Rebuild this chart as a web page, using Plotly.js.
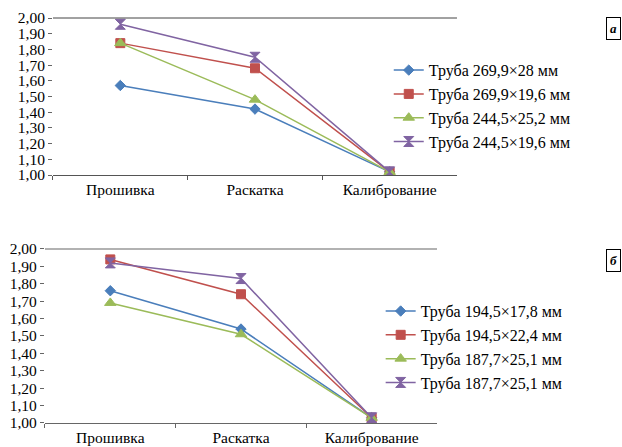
<!DOCTYPE html>
<html><head><meta charset="utf-8">
<script src="https://cdn.plot.ly/plotly-3.0.1.min.js"></script>
<style>html,body{margin:0;padding:0;background:#fff}#c{width:622px;height:447px}</style>
</head><body><div id="c"></div>
<script>
const categories = ['Прошивка', 'Раскатка', 'Калибрование'];

const namesA = ['Труба 269,9×28 мм', 'Труба 269,9×19,6 мм', 'Труба 244,5×25,2 мм', 'Труба 244,5×19,6 мм'];
const a_blue   = [1.57, 1.42, 1.02];
const a_red    = [1.84, 1.68, 1.02];
const a_green  = [1.84, 1.48, 1.02];
const a_purple = [1.96, 1.75, 1.02];

const namesB = ['Труба 194,5×17,8 мм', 'Труба 194,5×22,4 мм', 'Труба 187,7×25,1 мм', 'Труба 187,7×25,1 мм'];
const b_blue   = [1.76, 1.54, 1.03];
const b_red    = [1.94, 1.74, 1.03];
const b_green  = [1.69, 1.51, 1.03];
const b_purple = [1.92, 1.83, 1.03];

const colors = ['#4A7EBB', '#C0504D', '#9BBB59', '#8064A2'];
const symbols = ['diamond', 'square', 'triangle-up', 'hourglass'];
const sizes = [8, 9, 10, 10];

const F = 'Liberation Serif';
const traces = [];
[a_blue, a_red, a_green, a_purple].forEach((v, i) => {
  traces.push({
    x: categories, y: v, name: namesA[i], type: 'scatter', mode: 'lines+markers',
    xaxis: 'x', yaxis: 'y', legend: 'legend',
    line: {color: colors[i], width: 1.5},
    marker: {color: colors[i], symbol: symbols[i], size: sizes[i], line: {color: colors[i], width: 1}}
  });
});
[b_blue, b_red, b_green, b_purple].forEach((v, i) => {
  traces.push({
    x: categories, y: v, name: namesB[i], type: 'scatter', mode: 'lines+markers',
    xaxis: 'x2', yaxis: 'y2', legend: 'legend2',
    line: {color: colors[i], width: 1.5},
    marker: {color: colors[i], symbol: symbols[i], size: sizes[i], line: {color: colors[i], width: 1}}
  });
});

const xax = (dom, lc) => ({
  domain: dom, type: 'category', range: [-0.5, 2.5], showgrid: false, zeroline: false,
  showline: true, linecolor: lc, linewidth: 1, ticks: 'outside', tickson: 'boundaries',
  ticklen: 4, tickcolor: lc, tickfont: {family: F, size: 15.5, color: '#000'}, automargin: false
});
const yax = (dom, anchor) => ({
  domain: dom, range: [1, 2], dtick: 0.1, tick0: 1, tickformat: '.2f', showgrid: false,
  zeroline: false, showline: false, ticks: 'outside', ticklen: 4, tickcolor: '#666',
  tickfont: {family: F, size: 15.5, color: '#000'}, anchor: anchor, automargin: false
});

const layout = {
  width: 622, height: 447, margin: {l: 0, r: 0, t: 0, b: 0},
  paper_bgcolor: '#fff', plot_bgcolor: '#fff', separators: ', ',
  font: {family: F, color: '#000'},
  xaxis: xax([0.0852, 0.7347], '#555'),
  yaxis: yax([0.6085, 0.9597], 'x'),
  xaxis2: Object.assign(xax([0.0723, 0.7026], '#666'), {anchor: 'y2'}),
  yaxis2: yax([0.0537, 0.443], 'x2'),
  legend: {x: 0.625, y: 0.881, xanchor: 'left', yanchor: 'top', bgcolor: 'rgba(0,0,0,0)',
    font: {family: F, size: 16, color: '#000'}, tracegroupgap: 0, itemwidth: 30},
  legend2: {x: 0.612, y: 0.342, xanchor: 'left', yanchor: 'top', bgcolor: 'rgba(0,0,0,0)',
    font: {family: F, size: 16, color: '#000'}, tracegroupgap: 0, itemwidth: 30},
  shapes: [
    {type: 'line', xref: 'x domain', yref: 'y domain', x0: 0, x1: 1, y0: 1, y1: 1, line: {color: '#444', width: 1}},
    {type: 'line', xref: 'x2 domain', yref: 'y2 domain', x0: 0, x1: 1, y0: 1, y1: 1, line: {color: '#999', width: 1.5}}
  ],
  annotations: [
    {text: '<b><i>а</i></b>', xref: 'paper', yref: 'paper', x: 0.9985, y: 0.962, xanchor: 'right', yanchor: 'top',
     showarrow: false, bordercolor: '#000', borderwidth: 1, borderpad: 3, font: {family: F, size: 13}},
    {text: '<b><i>б</i></b>', xref: 'paper', yref: 'paper', x: 0.9985, y: 0.442, xanchor: 'right', yanchor: 'top',
     showarrow: false, bordercolor: '#000', borderwidth: 1, borderpad: 3, font: {family: F, size: 13}}
  ]
};
Plotly.newPlot('c', traces, layout, {displayModeBar: false, staticPlot: true});
</script></body></html>
